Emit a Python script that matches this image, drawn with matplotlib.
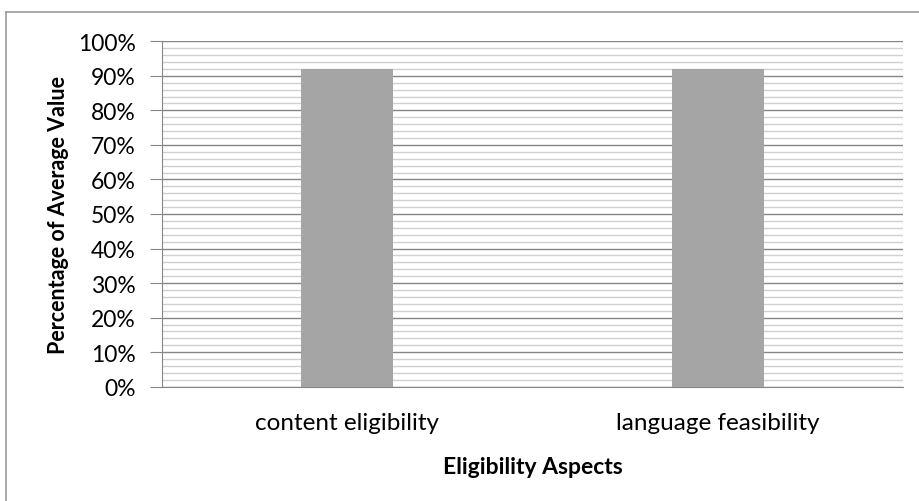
import matplotlib.pyplot as plt
import numpy as np
from matplotlib.lines import Line2D
from matplotlib.ticker import MultipleLocator, PercentFormatter

categories = ['content eligibility', 'language feasibility']
values = [92, 92]

plt.rcParams['font.family'] = ['Lato', 'DejaVu Sans']

W, H = 920, 502
fig = plt.figure(figsize=(W / 100, H / 100), dpi=100)
ax = fig.add_axes([162 / W, 1 - 387.7 / H, (903 - 162) / W, (387.7 - 42.3) / H])

x = np.arange(len(categories))
ax.bar(x, values, width=0.248, color='#a5a5a5', zorder=3)

ax.set_xlim(-0.5, len(categories) - 0.5)
ax.set_ylim(0, 100)
ax.yaxis.set_major_locator(MultipleLocator(10))
ax.yaxis.set_minor_locator(MultipleLocator(2))
ax.yaxis.set_major_formatter(PercentFormatter(decimals=0))
ax.grid(True, which='major', axis='y', color='#868686', linewidth=1, zorder=1)
ax.grid(True, which='minor', axis='y', color='#d0d0d0', linewidth=1, zorder=0)

ax.set_xticks(x)
ax.set_xticklabels(categories, fontsize=17.5)
ax.tick_params(axis='x', length=0, pad=18)
ax.tick_params(axis='y', which='major', length=9, color='#868686', labelsize=16.5, pad=10)
ax.tick_params(axis='y', which='minor', length=0)

for side in ['top', 'right']:
    ax.spines[side].set_visible(False)
for side in ['left', 'bottom']:
    ax.spines[side].set_color('#868686')

ax.set_ylabel('Percentage of Average Value', fontsize=15.5, fontweight='bold', labelpad=6)
ax.set_xlabel('Eligibility Aspects', fontsize=16.5, fontweight='bold', labelpad=17)

# chart border (only top and left edges are visible in the crop)
fig.lines.append(Line2D([6.5 / W, 6.5 / W], [0, 1 - 12.5 / H], transform=fig.transFigure,
                        color='#999999', linewidth=1.2))
fig.lines.append(Line2D([6.5 / W, 1], [1 - 12.5 / H, 1 - 12.5 / H], transform=fig.transFigure,
                        color='#999999', linewidth=1.2))

fig.savefig('out.png')
